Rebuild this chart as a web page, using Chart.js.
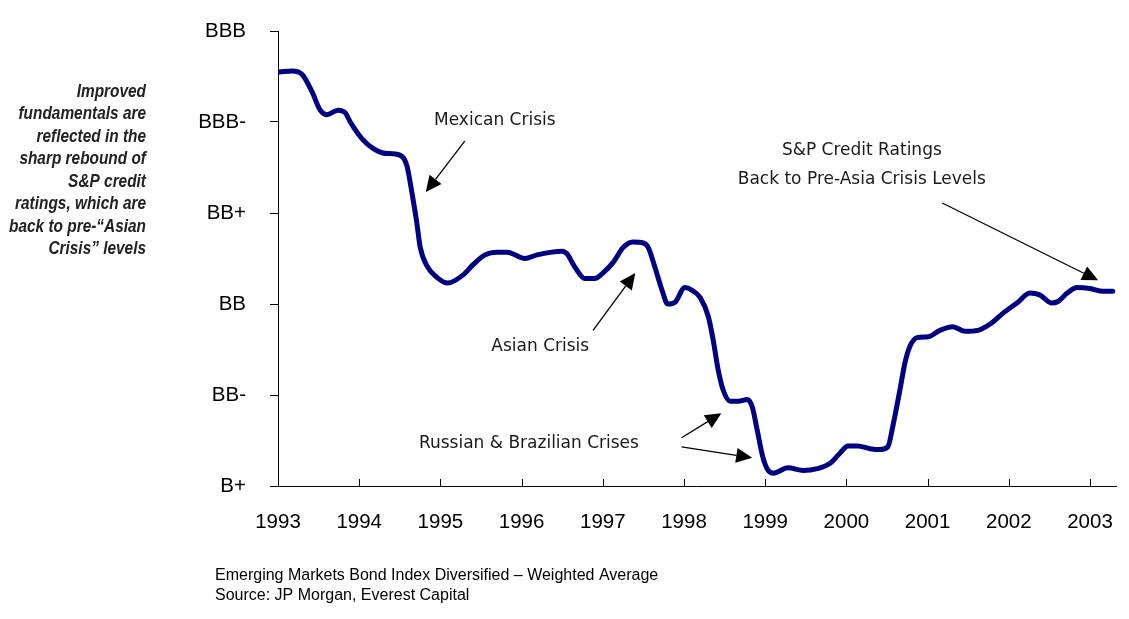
<!DOCTYPE html>
<html>
<head>
<meta charset="utf-8">
<title>EMBI Diversified – average credit rating</title>
<script src="https://cdn.jsdelivr.net/npm/chart.js@4.4.0/dist/chart.umd.min.js"></script>
<style>
  html, body { margin: 0; padding: 0; background: #fff; }
  #wrap { width: 1129px; height: 619px; }
</style>
</head>
<body>
<div id="wrap"><canvas id="chart" width="1129" height="619"></canvas></div>
<script>
// S&P rating notches, bottom (0) to top (5)
const ratings = ['B+', 'BB-', 'BB', 'BB+', 'BBB-', 'BBB'];

// weighted average rating of the index, in notches above B+
const dates = [
  1993.02, 1993.17, 1993.30, 1993.42, 1993.52, 1993.60, 1993.74, 1993.83, 1993.89,
  1994.05, 1994.17, 1994.29, 1994.42, 1994.53, 1994.59, 1994.65, 1994.71, 1994.75, 1994.84, 1994.96,
  1995.09, 1995.28, 1995.40, 1995.55, 1995.70, 1995.82,
  1996.04, 1996.19, 1996.37, 1996.50, 1996.56, 1996.66, 1996.78, 1996.90,
  1997.00, 1997.13, 1997.25, 1997.37, 1997.50, 1997.56, 1997.64, 1997.73, 1997.80, 1997.89,
  1998.01, 1998.10, 1998.20, 1998.30, 1998.36, 1998.42, 1998.48, 1998.57, 1998.67, 1998.78, 1998.84, 1998.90, 1998.97,
  1999.03, 1999.10, 1999.28, 1999.47, 1999.64, 1999.80, 1999.92,
  2000.02, 2000.14, 2000.29, 2000.41, 2000.51, 2000.57, 2000.66, 2000.72, 2000.78, 2000.87,
  2001.01, 2001.15, 2001.31, 2001.46, 2001.62, 2001.77, 2001.93,
  2002.10, 2002.26, 2002.38, 2002.53, 2002.61, 2002.72, 2002.84,
  2003.00, 2003.16, 2003.28
];
const avgRating = [
  4.55, 4.56, 4.52, 4.33, 4.13, 4.08, 4.13, 4.10, 4.00,
  3.80, 3.71, 3.66, 3.65, 3.62, 3.51, 3.22, 2.89, 2.63, 2.41, 2.29,
  2.23, 2.32, 2.43, 2.54, 2.57, 2.57,
  2.50, 2.54, 2.57, 2.58, 2.55, 2.40, 2.28, 2.28,
  2.34, 2.46, 2.62, 2.68, 2.67, 2.62, 2.41, 2.15, 2.00, 2.02,
  2.18, 2.15, 2.07, 1.86, 1.60, 1.28, 1.06, 0.93, 0.93, 0.95, 0.87, 0.62, 0.32,
  0.18, 0.14, 0.20, 0.17, 0.19, 0.25, 0.36,
  0.44, 0.44, 0.41, 0.40, 0.43, 0.65, 1.06, 1.35, 1.53, 1.63,
  1.64, 1.71, 1.75, 1.70, 1.71, 1.78, 1.90,
  2.01, 2.12, 2.10, 2.01, 2.03, 2.12, 2.18,
  2.17, 2.14, 2.14
];

// callouts, placed in data units (year, notch)
const callouts = [
  { text: ['Mexican Crisis'], at: [1995.67, 4.02], arrows: [[1995.30, 3.79, 1994.82, 3.23]] },
  { text: ['Asian Crisis'], at: [1996.23, 1.53], arrows: [[1996.88, 1.71, 1997.40, 2.34]] },
  { text: ['Russian & Brazilian Crises'], at: [1996.09, 0.47],
    arrows: [[1997.97, 0.53, 1998.46, 0.80], [1997.97, 0.43, 1998.84, 0.31]] },
  { text: ['S&P Credit Ratings', 'Back to Pre-Asia Crisis Levels'], at: [2000.19, 3.69],
    arrows: [[2001.18, 3.11, 2003.10, 2.26]] }
];

const sideNote = [
  'Improved', 'fundamentals are', 'reflected in the', 'sharp rebound of',
  'S&P credit', 'ratings, which are', 'back to pre-\u201CAsian', 'Crisis\u201D levels'
];
const footnote = [
  'Emerging Markets Bond Index Diversified \u2013 Weighted Average',
  'Source: JP Morgan, Everest Capital'
];

const axisFont = { family: '"Liberation Sans", Arial, sans-serif', size: 20.5 };

// keep label overflow from shrinking the plot area
function noOverflow(s) {
  s.paddingTop = 0;
  s.paddingBottom = 0;
  s.paddingLeft = 0;
  s.paddingRight = 0;
}

function drawArrow(ctx, x1, y1, x2, y2) {
  const a = Math.atan2(y2 - y1, x2 - x1);
  const len = 16, hw = 7.5;
  const bx = x2 - len * Math.cos(a), by = y2 - len * Math.sin(a);
  ctx.beginPath();
  ctx.moveTo(x1, y1);
  ctx.lineTo(bx, by);
  ctx.stroke();
  ctx.beginPath();
  ctx.moveTo(x2, y2);
  ctx.lineTo(bx + hw * Math.sin(a), by - hw * Math.cos(a));
  ctx.lineTo(bx - hw * Math.sin(a), by + hw * Math.cos(a));
  ctx.closePath();
  ctx.fill();
}

const notesPlugin = {
  id: 'notes',
  afterDraw(chart) {
    const { ctx, chartArea } = chart;
    const x = chart.scales.x, y = chart.scales.y;
    ctx.save();

    // year tick marks point up into the plot
    ctx.strokeStyle = '#000';
    ctx.lineWidth = 1;
    x.ticks.forEach(t => {
      const px = Math.round(x.getPixelForValue(t.value)) + 0.5;
      ctx.beginPath();
      ctx.moveTo(px, chartArea.bottom);
      ctx.lineTo(px, chartArea.bottom - 7);
      ctx.stroke();
    });

    // callouts
    ctx.strokeStyle = '#000';
    ctx.lineWidth = 1.3;
    ctx.font = '17px "DejaVu Sans", Verdana, sans-serif';
    ctx.textAlign = 'center';
    ctx.textBaseline = 'middle';
    callouts.forEach(c => {
      const cx = x.getPixelForValue(c.at[0]);
      const cy = y.getPixelForValue(c.at[1]);
      ctx.fillStyle = '#1a1a1a';
      c.text.forEach((line, i) => ctx.fillText(line, cx, cy + i * 29));
      ctx.fillStyle = '#000';
      c.arrows.forEach(a => drawArrow(ctx,
        x.getPixelForValue(a[0]), y.getPixelForValue(a[1]),
        x.getPixelForValue(a[2]), y.getPixelForValue(a[3])));
    });

    // side note, condensed bold italic
    ctx.fillStyle = '#222';
    ctx.font = 'italic bold 17.5px "Liberation Sans", Arial, sans-serif';
    ctx.textAlign = 'right';
    sideNote.forEach((line, i) => {
      ctx.save();
      ctx.translate(146, 92 + i * 22.5);
      ctx.scale(0.88, 1);
      ctx.fillText(line, 0, 0);
      ctx.restore();
    });

    // source lines
    ctx.fillStyle = '#000';
    ctx.font = '16px "Liberation Sans", Arial, sans-serif';
    ctx.textAlign = 'left';
    footnote.forEach((line, i) => ctx.fillText(line, 215, 576 + i * 20));

    ctx.restore();
  }
};

new Chart(document.getElementById('chart'), {
  type: 'line',
  data: {
    datasets: [{
      data: dates.map((d, i) => ({ x: d, y: avgRating[i] })),
      borderColor: '#000080',
      borderWidth: 5,
      pointRadius: 0,
      cubicInterpolationMode: 'monotone',
      borderCapStyle: 'round',
      borderJoinStyle: 'round',
      fill: false
    }]
  },
  options: {
    responsive: false,
    animation: false,
    layout: { padding: { top: 31, right: 13, bottom: 0, left: 0 } },
    plugins: { legend: { display: false }, tooltip: { enabled: false } },
    scales: {
      x: {
        type: 'linear',
        min: 1993,
        max: 2003.32,
        afterFit: s => { s.height = 133; noOverflow(s); },
        grid: { display: false },
        border: { color: '#000', width: 1 },
        ticks: {
          stepSize: 1,
          includeBounds: false,
          autoSkip: false,
          maxRotation: 0,
          padding: 16,
          color: '#000',
          font: axisFont,
          callback: v => String(v)
        }
      },
      y: {
        min: 0,
        max: 5,
        afterFit: s => { s.width = 278; noOverflow(s); },
        grid: { drawOnChartArea: false, drawTicks: true, tickLength: 8, color: '#000' },
        border: { color: '#000', width: 1 },
        ticks: {
          stepSize: 1,
          padding: 24,
          color: '#000',
          font: axisFont,
          callback: v => ratings[v]
        }
      }
    }
  },
  plugins: [notesPlugin]
});
</script>
</body>
</html>
